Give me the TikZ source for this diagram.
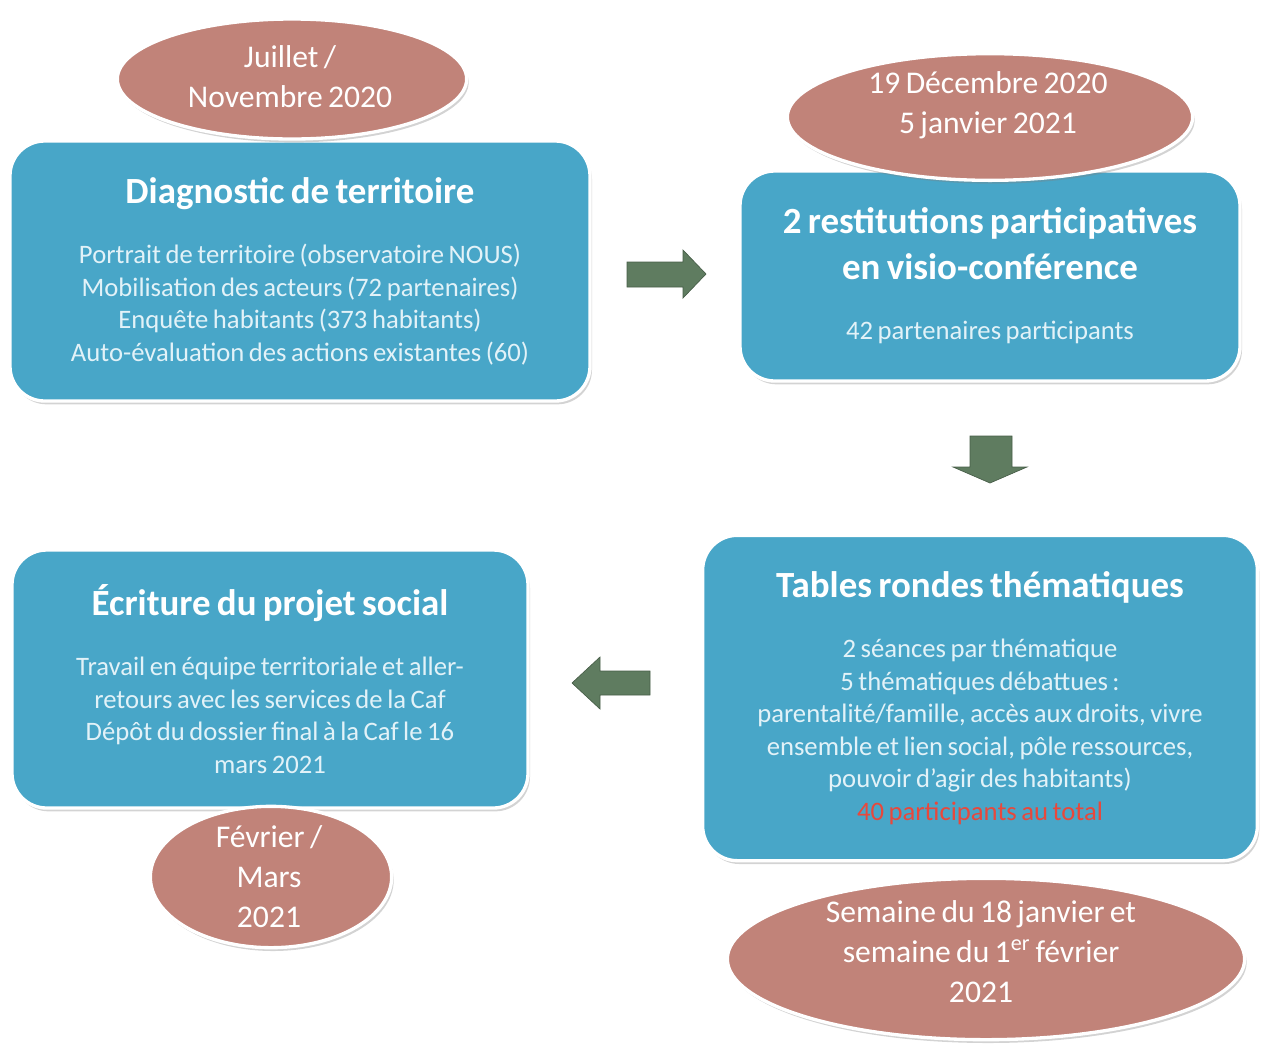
\documentclass[tikz,border=0pt]{standalone}
\usepackage{fontspec}
\setmainfont{Carlito}[WordSpace=0.75]
\usetikzlibrary{shapes.geometric,shadows}

\definecolor{bleuEtape}{RGB}{72,166,200}
\definecolor{roseDate}{RGB}{193,131,121}
\definecolor{vertFleche}{RGB}{95,124,96}
\definecolor{texteClair}{RGB}{226,242,248}
\definecolor{rougeTotal}{RGB}{232,72,60}

\tikzset{every picture/.style={line width=0.75pt}}
\tikzset{
  ombre/.style={drop shadow={shadow xshift=1.5pt,shadow yshift=-2.5pt,opacity=0.35}},
  etape/.style={draw=white,line width=2.5pt,fill=bleuEtape,rounded corners=26pt,ombre,
    align=flush center,inner sep=0pt,text=texteClair,font=\fontsize{20}{24.4}\selectfont},
  date/.style={ellipse,draw=white,line width=2.5pt,fill=roseDate,ombre,inner sep=0pt},
  datetexte/.style={align=center,text=white,inner sep=0pt,font=\fontsize{23.7}{30}\selectfont},
  fleche/.style={fill=vertFleche,draw=vertFleche!75!black,line width=0.5pt},
}
\newcommand{\titreEtape}[1]{{\color{white}\fontsize{27.7}{34}\selectfont\bfseries #1\par}\vspace{21pt}}

\begin{document}
\begin{tikzpicture}[x=0.75pt,y=0.75pt,yscale=-1,xscale=1]
\useasboundingbox (0,0) rectangle (1263,1047);

%Shape: Rounded Rect [id:diagnostic]
\node[etape,minimum width=435pt,minimum height=195pt,text width=415pt] (diagnostic) at (300,271)
  {\titreEtape{Diagnostic de territoire}
   Portrait de territoire (observatoire NOUS)\\
   Mobilisation des acteurs (72 partenaires)\\
   Enquête habitants (373 habitants)\\
   Auto-évaluation des actions existantes (60)};
%Shape: Rounded Rect [id:restitutions]
\node[etape,minimum width=375pt,minimum height=157.5pt,text width=355pt] (restitutions) at (990,276)
  {\titreEtape{2 restitutions participatives\\en visio-conférence}
   42 partenaires participants};
%Shape: Rounded Rect [id:tables]
\node[etape,minimum width=416pt,minimum height=244pt,text width=400pt] (tables) at (980,698)
  {\titreEtape{Tables rondes thématiques}
   2 séances par thématique\\
   5 thématiques débattues :\\
   parentalité/famille, accès aux droits, vivre\\
   ensemble et lien social, pôle ressources,\\
   pouvoir d'agir des habitants)\\
   {\color{rougeTotal}40 participants au total}};
%Shape: Rounded Rect [id:ecriture]
\node[etape,minimum width=387pt,minimum height=193.5pt,text width=370pt] (ecriture) at (270,679)
  {\titreEtape{Écriture du projet social}
   Travail en équipe territoriale et aller-\\
   retours avec les services de la Caf\\
   Dépôt du dossier final à la Caf le 16\\
   mars 2021};

%Shape: Ellipse [id:juillet]
\node[date,minimum width=262pt,minimum height=90pt] (juillet) at (292,79) {};
\node[datetexte] (juilletTexte) at (290,77) {Juillet /\\Novembre 2020};
%Shape: Ellipse [id:decembre]
\node[date,minimum width=304pt,minimum height=95pt] (decembre) at (990,117) {};
\node[datetexte] (decembreTexte) at (988,105) {19 Décembre 2020\\5 janvier 2021};
%Shape: Ellipse [id:fevrier]
\node[date,minimum width=181pt,minimum height=106pt] (fevrier) at (271,877) {};
\node[datetexte] (fevrierTexte) at (269,877) {Février /\\Mars\\2021};
%Shape: Ellipse [id:semaine]
\node[date,minimum width=388pt,minimum height=121pt] (semaine) at (986,959) {};
\node[datetexte] (semaineTexte) at (981,952)
  {Semaine du 18 janvier et\\semaine du 1\textsuperscript{er} février\\2021};

%Shape: Right Arrow [id:fleche1]
\draw[fleche] (627,262) -- (683,262) -- (683,250) -- (706,274) -- (683,298) -- (683,287) -- (627,287) -- cycle ;
%Shape: Down Arrow [id:fleche2]
\draw[fleche] (970,436) -- (1012,436) -- (1012,467) -- (1027,467) -- (990,483) -- (953,467) -- (970,467) -- cycle ;
%Shape: Left Arrow [id:fleche3]
\draw[fleche] (650,671) -- (600,671) -- (600,657) -- (572,683) -- (600,709) -- (600,695) -- (650,695) -- cycle ;

\end{tikzpicture}
\end{document}
